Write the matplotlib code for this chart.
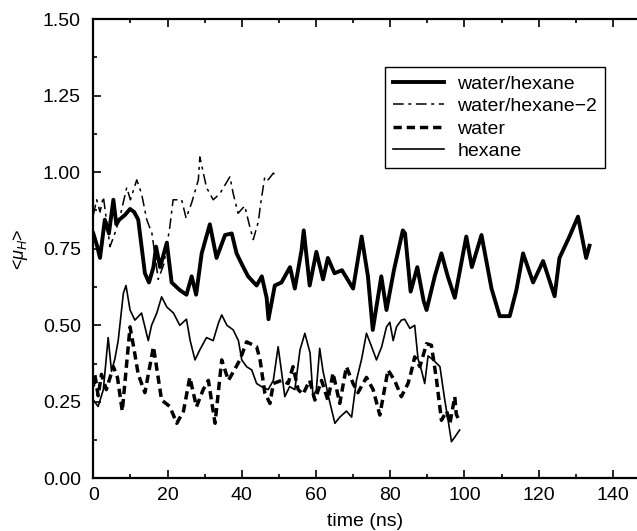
import matplotlib
matplotlib.use("Agg")
from matplotlib import pyplot as plt
from matplotlib.ticker import MultipleLocator

plt.rcParams['font.family'] = ['Liberation Sans', 'DejaVu Sans']
plt.rcParams['mathtext.fontset'] = 'custom'
plt.rcParams['mathtext.rm'] = 'Liberation Sans'
plt.rcParams['mathtext.it'] = 'Liberation Sans:italic'

# water/hexane (thick solid)
t_wh = [0, 1, 1.8, 3.1, 4.2, 5.4, 6.2, 7, 8.5, 9.9, 11, 12.1, 13.9, 15, 16.2, 16.9, 18, 19.8,
        21.1, 23.3, 25.1, 26.5, 27.7, 29.2, 31.4, 33.2, 35.5, 37.3, 38.6, 40, 41.7, 44, 45.4,
        46.7, 47.2, 48.9, 50.7, 53, 54.3, 56.1, 56.7, 58.3, 60.1, 61.9, 63.2, 65, 67, 68.5, 70,
        72.3, 74, 75.3, 77.6, 79, 81, 83.4, 84, 85.5, 87.3, 89, 89.8, 92, 93.8, 95.5, 97.4,
        100.5, 102, 104.6, 107.3, 109.5, 112.2, 114, 115.8, 118.5, 121.2, 124.3, 125.6, 128.3,
        130.6, 132.8, 133.7]
v_wh = [0.80, 0.76, 0.72, 0.845, 0.80, 0.91, 0.83, 0.845, 0.86, 0.88, 0.87, 0.845, 0.67, 0.64, 0.69, 0.757, 0.69, 0.77,
        0.64, 0.615, 0.60, 0.66, 0.60, 0.735, 0.83, 0.72, 0.795, 0.80, 0.735, 0.70, 0.66, 0.63, 0.66,
        0.59, 0.52, 0.63, 0.64, 0.69, 0.62, 0.745, 0.81, 0.63, 0.74, 0.65, 0.72, 0.67, 0.68, 0.65, 0.62,
        0.79, 0.66, 0.485, 0.66, 0.55, 0.68, 0.81, 0.80, 0.61, 0.69, 0.58, 0.55, 0.66, 0.735, 0.66, 0.59,
        0.79, 0.69, 0.795, 0.62, 0.53, 0.53, 0.615, 0.735, 0.64, 0.71, 0.595, 0.72, 0.79,
        0.855, 0.72, 0.76]

# water/hexane-2 (thin dash-dot)
t_wh2 = [0, 0.9, 1.8, 2.7, 4.5, 5.8, 7.2, 9, 10, 11.7, 13, 14.4, 15.8, 17.5, 19, 20.6, 21.5,
         23.8, 25, 26.5, 28.3, 28.7, 30.5, 32.3, 34.1, 36.8, 37.7, 39, 40.8, 42.2, 43.1, 44.5,
         45, 46.2, 47.1, 48.5, 49.8]
v_wh2 = [0.86, 0.91, 0.87, 0.92, 0.757, 0.80, 0.855, 0.95, 0.91, 0.975, 0.93, 0.845, 0.80, 0.65, 0.70, 0.82, 0.91,
         0.91, 0.85, 0.90, 0.975, 1.05, 0.95, 0.91, 0.93, 0.985, 0.93, 0.866, 0.89, 0.82, 0.78, 0.84,
         0.89, 0.985, 0.975, 0.997, 0.985]

# water (thick dashed)
t_w = [0, 0.4, 1.3, 2.2, 3.5, 5.4, 6.5, 7.8, 9.9, 11, 12.1, 13.9, 16.2, 18.4, 20.6, 22.5, 24.3,
       26, 27.8, 29.6, 31, 32.8, 34.6, 36.4, 37.8, 39.5, 41.3, 44, 44.9, 46.2, 47.6, 48.5, 50.7,
       52.5, 53.8, 55.2, 56.5, 58.3, 59.7, 61.5, 63.2, 64.6, 66.4, 68.2, 70, 71.3, 73.6, 75.4,
       77.2, 79.4, 81.2, 83, 84.8, 85.7, 86.6, 88, 89.8, 91.1, 92.5, 93.8, 95.2, 96.1, 97.4,
       97.8, 98.3]
v_w = [0.30, 0.34, 0.27, 0.34, 0.29, 0.365, 0.33, 0.22, 0.495, 0.42, 0.34, 0.28, 0.43, 0.256, 0.235, 0.18, 0.22,
       0.33, 0.234, 0.29, 0.32, 0.18, 0.387, 0.32, 0.35, 0.387, 0.446, 0.43, 0.39, 0.28, 0.245, 0.31, 0.32,
       0.31, 0.365, 0.29, 0.275, 0.32, 0.256, 0.32, 0.256, 0.344, 0.245, 0.365, 0.31, 0.28, 0.33, 0.29,
       0.207, 0.354, 0.32, 0.267, 0.31, 0.35, 0.397, 0.365, 0.44, 0.435, 0.32, 0.19, 0.22, 0.18, 0.267,
       0.21, 0.196]

# hexane (thin solid)
t_h = [0, 1.3, 2.7, 4, 4.9, 5.8, 6.7, 8.1, 8.8, 9.9, 11.2, 13, 14.8, 15.7, 17.1, 18.4, 19.8,
       21.6, 23.3, 25.1, 26.1, 27.4, 28.7, 30.5, 32.3, 33.7, 34.6, 36, 37.7, 39.1, 40, 41.3,
       42.7, 44, 45.3, 47.1, 48.5, 49.8, 50.7, 51.6, 52.9, 54.3, 55.7, 57, 58.4, 59.2, 60.1,
       61, 61.9, 63.5, 65.1, 66.4, 68.2, 69.6, 70.9, 72.3, 73.6, 75, 76.3, 77.7, 79, 79.9,
       80.8, 81.7, 83, 83.9, 85.3, 86.6, 87.5, 88.4, 89.3, 90.2, 91.6, 93.4, 94.7, 95.6, 96.5,
       97.4, 98.7]
v_h = [0.256, 0.235, 0.29, 0.46, 0.35, 0.39, 0.45, 0.605, 0.63, 0.55, 0.517, 0.54, 0.45, 0.50, 0.54, 0.593, 0.56,
       0.54, 0.50, 0.52, 0.45, 0.387, 0.42, 0.46, 0.45, 0.507, 0.534, 0.50, 0.485, 0.45, 0.387, 0.365,
       0.354, 0.31, 0.30, 0.29, 0.32, 0.43, 0.35, 0.267, 0.30, 0.29, 0.42, 0.474, 0.41, 0.267, 0.29,
       0.425, 0.35, 0.26, 0.18, 0.20, 0.22, 0.20, 0.32, 0.39, 0.474, 0.43, 0.387, 0.43, 0.495, 0.51,
       0.45, 0.495, 0.517, 0.52, 0.49, 0.50, 0.39, 0.354, 0.31, 0.40, 0.387, 0.365, 0.256, 0.19, 0.12,
       0.135, 0.158]

fig = plt.figure(figsize=(6.37, 5.31), dpi=100)
ax = fig.add_axes([0.1465, 0.099, 0.8535, 0.865])

ax.plot(t_wh, v_wh, color='black', lw=2.8, label='water/hexane')
ax.plot(t_wh2, v_wh2, color='black', lw=1.1, dashes=(7, 3, 2, 3), label='water/hexane\u22122')
ax.plot(t_w, v_w, color='black', lw=2.5, dashes=(2.4, 1.4), label='water')
ax.plot(t_h, v_h, color='black', lw=1.2, label='hexane')

ax.set_xlim(0, 146.5)
ax.set_ylim(0, 1.5)
ax.xaxis.set_major_locator(MultipleLocator(20))
ax.xaxis.set_minor_locator(MultipleLocator(10))
ax.yaxis.set_major_locator(MultipleLocator(0.25))
ax.yaxis.set_minor_locator(MultipleLocator(0.125))
ax.yaxis.set_major_formatter(plt.FormatStrFormatter('%.2f'))
ax.tick_params(which='both', direction='in', top=True, right=False, labelsize=14, width=1.2)
ax.tick_params(which='major', length=6)
ax.tick_params(which='minor', length=3)
ax.tick_params(axis='x', which='major', pad=6)
ax.tick_params(axis='y', which='major', pad=9)
for s in ['left', 'bottom', 'top']:
    ax.spines[s].set_linewidth(1.6)
ax.spines['right'].set_visible(False)

ax.set_xlabel('time (ns)', fontsize=14, labelpad=7)
ax.set_ylabel('<$\\mu_H$>', fontsize=13, labelpad=9)

leg = ax.legend(loc='upper right', bbox_to_anchor=(0.941, 0.895), fontsize=14,
                handlelength=2.6, handletextpad=0.7, fancybox=False, edgecolor='black',
                framealpha=1, borderpad=0.4, labelspacing=0.25, borderaxespad=0)
leg.get_frame().set_linewidth(1.0)

fig.savefig('out.png', dpi=100)
